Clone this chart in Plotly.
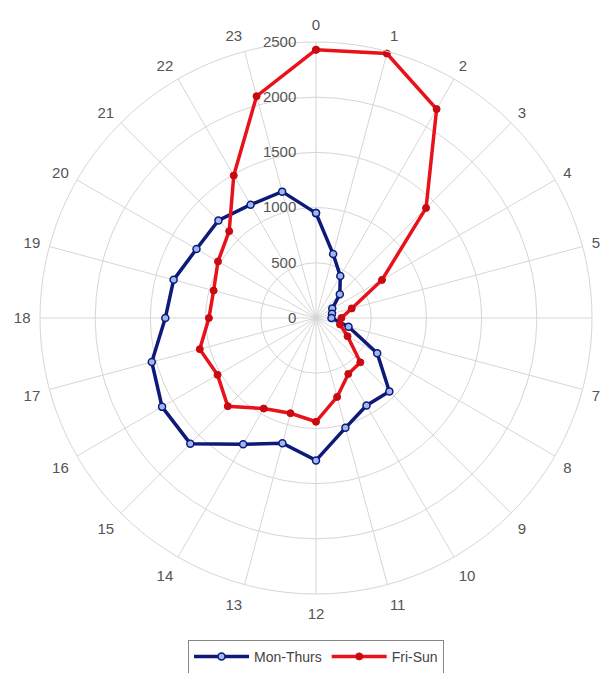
import plotly.graph_objects as go

hours = list(range(24))
hour_labels = [str(h) for h in hours]
mon_thurs = [950, 600, 440, 305, 170, 150, 140, 305, 640, 940, 915, 1030,
             1290, 1175, 1320, 1610, 1610, 1540, 1365, 1335, 1250, 1250, 1185, 1185]
fri_sun = [2430, 2480, 2185, 1410, 690, 335, 230, 225, 330, 568, 585, 740,
           940, 893, 947, 1130, 1030, 1090, 970, 960, 1025, 1112, 1490, 2080]
radial_ticks = [0, 500, 1000, 1500, 2000, 2500]

theta = [h * 15 for h in hours] + [0]

fig = go.Figure()
fig.add_trace(go.Scatterpolar(
    r=mon_thurs + mon_thurs[:1], theta=theta, mode="lines+markers",
    name="Mon-Thurs",
    line=dict(color="#0d1a7a", width=3.5),
    marker=dict(symbol="circle", size=7, color="#9fb8f0",
                line=dict(color="#0d1a7a", width=1.5)),
))
fig.add_trace(go.Scatterpolar(
    r=fri_sun + fri_sun[:1], theta=theta, mode="lines+markers",
    name="Fri-Sun",
    line=dict(color="#e8121a", width=3.5),
    marker=dict(symbol="circle", size=7, color="#c80a10",
                line=dict(color="#c80a10", width=1)),
))

fig.update_layout(
    width=602, height=665,
    margin=dict(l=32, r=18, t=34, b=79, autoexpand=False),
    paper_bgcolor="white",
    font=dict(family="Liberation Sans, Arial, sans-serif", size=15, color="#555555"),
    polar=dict(
        bgcolor="white",
        domain=dict(x=[0, 1], y=[0, 1]),
        angularaxis=dict(
            direction="clockwise", rotation=90,
            tickmode="array", tickvals=[h * 15 for h in hours], ticktext=hour_labels,
            showgrid=True, gridcolor="#d6d6d6", gridwidth=1,
            showline=True, linecolor="#d6d6d6", linewidth=1,
            ticks="outside", ticklen=6, tickcolor="rgba(0,0,0,0)",
            tickfont=dict(size=15, color="#555555"),
        ),
        radialaxis=dict(
            range=[0, 2500], tickmode="array", tickvals=radial_ticks,
            ticktext=[str(v) for v in radial_ticks],
            angle=90, tickangle=90, side="counterclockwise",
            showgrid=True, gridcolor="#d6d6d6", gridwidth=1,
            showline=False, ticks="outside", ticklen=14,
            tickcolor="rgba(0,0,0,0)",
            tickfont=dict(size=15, color="#555555"),
        ),
    ),
    showlegend=True,
    legend=dict(
        orientation="h", x=0.5, xanchor="center", y=-0.083, yanchor="top",
        bordercolor="#888888", borderwidth=1, bgcolor="white",
        font=dict(size=14, color="#444444"),
        itemwidth=55, tracegroupgap=0,
    ),
)

fig.write_html("out.html")
